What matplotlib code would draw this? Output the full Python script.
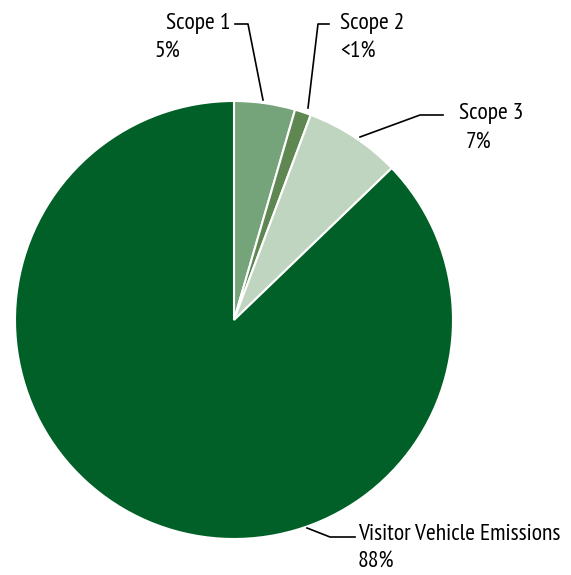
import matplotlib
matplotlib.use("Agg")
import matplotlib.pyplot as plt

categories = ["Scope 1", "Scope 2", "Scope 3", "Visitor Vehicle Emissions"]
values = [4.5, 1.2, 7.1, 87.2]
pct_labels = ["5%", "<1%", "7%", "88%"]
colors = ["#76a47a", "#5e8752", "#c0d5c0", "#006027"]

plt.rcParams['font.family'] = ['PT Sans Narrow', 'DejaVu Sans']

W, H = 571, 575
fig = plt.figure(figsize=(W / 100, H / 100), dpi=100)
ax = fig.add_axes([0, 0, 1, 1])

cx, cy, r = 234, H - 320, 219
ax.pie(values, colors=colors, startangle=90, counterclock=False,
       center=(cx, cy), radius=r, frame=True,
       wedgeprops=dict(edgecolor='white', linewidth=1.5))
ax.set_xlim(0, W)
ax.set_ylim(0, H)
ax.set_aspect('equal')
ax.axis('off')

def Y(y):
    return H - y

lines = [
    [(263, 100), (248, 24), (235, 24)],
    [(308, 108), (318, 24), (329, 24)],
    [(360, 137), (420, 115), (443, 115)],
    [(307, 528), (330, 537), (355, 537)],
]
for pts in lines:
    xs = [p[0] for p in pts]
    ys = [Y(p[1]) for p in pts]
    ax.plot(xs, ys, color='black', lw=1.2)

fs = 17
ax.text(231, Y(24), categories[0], ha='right', va='center', fontsize=fs)
ax.text(155, Y(52), pct_labels[0], ha='left', va='center', fontsize=fs)
ax.text(340, Y(24), categories[1], ha='left', va='center', fontsize=fs)
ax.text(340, Y(52), pct_labels[1], ha='left', va='center', fontsize=fs)
ax.text(459, Y(114), categories[2], ha='left', va='center', fontsize=fs)
ax.text(466, Y(143), pct_labels[2], ha='left', va='center', fontsize=fs)
ax.text(358, Y(535), categories[3], ha='left', va='center', fontsize=fs)
ax.text(358, Y(562), pct_labels[3], ha='left', va='center', fontsize=fs)

fig.savefig("out.png", dpi=100)
